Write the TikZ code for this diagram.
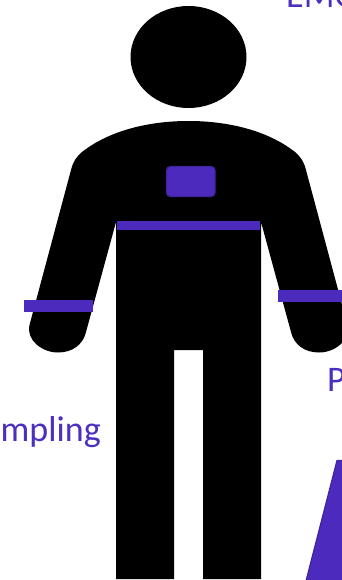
\documentclass[tikz,border=0pt]{standalone}
\usepackage{fontspec}
\setmainfont{Carlito}
\definecolor{band}{HTML}{4C2ABE}
\definecolor{bandedge}{HTML}{40259C}
\definecolor{labelc}{HTML}{4A2FC0}
\tikzset{
  body/.style={fill=black,draw=none},
  sensor/.style={fill=band,draw=none},
  sensoredge/.style={fill=band,draw=bandedge,line width=1.2pt},
  lab/.style={text=labelc,font=\fontsize{36}{36}\selectfont,inner sep=0pt}
}
\begin{document}
\begin{tikzpicture}[x=1pt,y=-1pt]
\useasboundingbox (0,0) rectangle (342,580);
\clip (0,0) rectangle (342,580);
\fill[white] (0,0) rectangle (342,580);
% head
\fill[body] (188.5,57) ellipse [x radius=58,y radius=51];
% body
\fill[body] (188.5,121)
  .. controls (150,121) and (110,130) .. (82,152)
  .. controls (76,157) and (73,162) .. (71,170)
  -- (29.5,325)
  .. controls (26,340) and (42,352.5) .. (58,352.5)
  .. controls (72,352.5) and (83,345) .. (86,332)
  -- (116,222) -- (116,579) -- (174,579) -- (174,350) -- (203,350) -- (203,579) -- (261,579) -- (261,222)
  -- (291,332)
  .. controls (294,345) and (305,352.5) .. (319,352.5)
  .. controls (335,352.5) and (351,340) .. (347.5,325)
  -- (306,170)
  .. controls (304,162) and (301,157) .. (295,152)
  .. controls (267,130) and (227,121) .. (188.5,121) -- cycle;
% sensors
\fill[sensor] (117,221) rectangle (260,229.5);
\fill[sensor] (24,300) rectangle (93,311.5);
\fill[sensor] (278,290) rectangle (342,301.5);
\draw[sensoredge,rounded corners=4pt] (166.5,166.5) rectangle (215,196.5);
\fill[sensoredge] (337,460.5) -- (343,460.5) -- (343,581) -- (306,581) -- cycle;
% labels, cut off by the frame
\node[lab,anchor=base west] (emg) at (286,8) {EMG};
\node[lab,anchor=base west] (p) at (327,391) {P};
\node[lab,anchor=base east] (samp) at (101,441) {Sampling};
\end{tikzpicture}
\end{document}
